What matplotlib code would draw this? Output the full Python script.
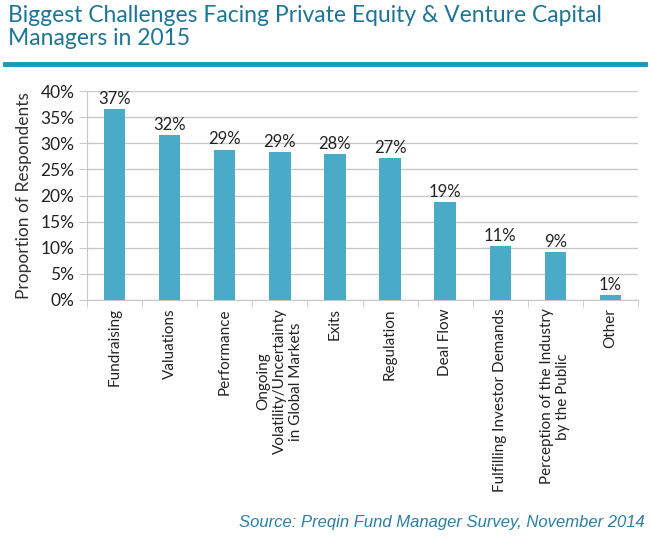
import matplotlib
matplotlib.use("Agg")
import matplotlib.pyplot as plt
import matplotlib.ticker as tic
import numpy as np

categories = [
    "Fundraising",
    "Valuations",
    "Performance",
    "Ongoing\nVolatility/Uncertainty\nin Global Markets",
    "Exits",
    "Regulation",
    "Deal Flow",
    "Fulfilling Investor Demands",
    "Perception of the Industry\nby the Public",
    "Other",
]
values = [36.6, 31.5, 28.8, 28.4, 28.0, 27.1, 18.7, 10.3, 9.2, 1.0]
value_labels = ["37%", "32%", "29%", "29%", "28%", "27%", "19%", "11%", "9%", "1%"]

title = "Biggest Challenges Facing Private Equity & Venture Capital\nManagers in 2015"
source = "Source: Preqin Fund Manager Survey, November 2014"

bar_color = "#4aabc8"
title_color = "#1f7595"
grid_color = "#c8c8c8"

plt.rcParams["font.family"] = ["Lato", "DejaVu Sans"]

fig = plt.figure(figsize=(6.5, 5.4), dpi=100)
ax = fig.add_axes([87 / 650, 1 - 300 / 540, 551 / 650, 209 / 540])

x = np.arange(len(categories))
ax.bar(x, values, width=0.39, color=bar_color, zorder=3)
for xi, v, lab in zip(x, values, value_labels):
    ax.text(xi, v + 0.4, lab, ha="center", va="bottom", fontsize=12, color="#222222")

ax.set_xlim(-0.5, len(categories) - 0.5)
ax.set_ylim(0, 40)
ax.yaxis.set_major_locator(tic.MultipleLocator(5))
ax.yaxis.set_major_formatter(tic.FuncFormatter(lambda v, p: "%d%%" % v))
ax.grid(axis="y", color=grid_color, linewidth=1, zorder=0)
ax.set_xticks(x)
ax.set_xticklabels(categories, rotation=90, fontsize=11, ha="center", va="top",
                   multialignment="center", color="#222222")
ax.xaxis.set_minor_locator(tic.FixedLocator(np.arange(-0.5, len(categories), 1)))
ax.tick_params(axis="x", which="major", length=0, pad=6)
ax.tick_params(axis="x", which="minor", length=5, color=grid_color)
ax.tick_params(axis="y", length=6, color=grid_color, labelsize=12.5, labelcolor="#222222", pad=3)
for s in ["top", "right"]:
    ax.spines[s].set_visible(False)
ax.spines["left"].set_color(grid_color)
ax.spines["bottom"].set_color(grid_color)
ax.set_ylabel("Proportion of Respondents", fontsize=12.5, color="#333333", labelpad=6)

fig.text(8 / 650, 1 - 5 / 540, title, ha="left", va="top", fontsize=16.5,
         color=title_color, linespacing=1.1)
fig.add_artist(plt.Line2D([5 / 650, 645 / 650], [1 - 64 / 540, 1 - 64 / 540],
                          color="#1a97bd", linewidth=3.5))
fig.text(645 / 650, 1 - 523 / 540, source, ha="right", va="center", fontsize=12,
         style="italic", color="#2a7fa6", family=["Liberation Sans", "DejaVu Sans"])

fig.savefig("out.png", dpi=100)
